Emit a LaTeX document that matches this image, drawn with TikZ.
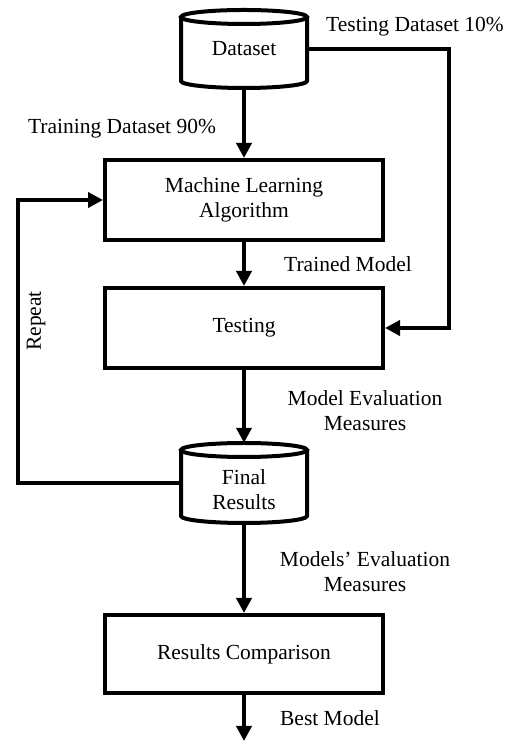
\documentclass[tikz,border=0pt]{standalone}
\usepackage{fontspec}
\setmainfont{Liberation Serif}
\usetikzlibrary{arrows.meta,calc}
\begin{document}
\begin{tikzpicture}[x=1pt,y=1pt,
  every node/.style={font=\fontsize{21.5}{25}\selectfont, inner sep=0pt},
  boxnode/.style={draw, line width=4pt, minimum width=278pt, minimum height=80pt, align=center},
  cylnode/.style={minimum width=126pt, minimum height=78pt, align=center},
  lbl/.style={align=center},
  arr/.style={line width=4pt, -{Triangle[length=15pt,width=15pt]}},
  ln/.style={line width=4pt}]
\useasboundingbox (0,0) rectangle (525,741);
% nodes
\node[cylnode] (dataset) at (244,692) {Dataset};
\node[boxnode] (ml) at (244,541) {Machine Learning\\Algorithm};
\node[boxnode] (testing) at (244,413) {Testing};
\node[cylnode, minimum height=80pt] (finalres) at (244,258) {};
\node[lbl] (finaltext) at (244,251) {Final\\Results};
\node[boxnode, minimum height=78pt] (compare) at (244,87) {Results Comparison};
\coordinate (bestend) at (244,0);
\coordinate (tcorner) at (449,692);
\coordinate (rpt) at (18,258);
% cylinders
\draw[ln] (244,724) ellipse [x radius=63pt, y radius=7pt];
\draw[ln] (181,724) -- (181,660) arc[start angle=180, end angle=360, x radius=63pt, y radius=7pt] -- (307,724);
\draw[ln] (244,291) ellipse [x radius=63pt, y radius=7pt];
\draw[ln] (181,291) -- (181,225) arc[start angle=180, end angle=360, x radius=63pt, y radius=7pt] -- (307,291);
% connectors
\draw[arr] (dataset.south) -- (ml.north);
\draw[arr] (dataset.east) -- (tcorner) -- (tcorner |- testing.east) -- (testing.east);
\draw[arr] (ml.south) -- (testing.north);
\draw[arr] (testing.south) -- (finalres.north);
\draw[arr] (finalres.west) -- (rpt) -- (rpt |- ml.west) -- (ml.west);
\draw[arr] (finalres.south) -- (compare.north);
\draw[arr] (compare.south) -- (bestend);
% labels
\node[lbl] (l1) at (415,714) {Testing Dataset 10\%};
\node[lbl] (l2) at (122,612) {Training Dataset 90\%};
\node[lbl] (l3) at (348,477) {Trained Model};
\node[lbl] (l4) at (365,330) {Model Evaluation\\Measures};
\node[lbl] (l5) at (365,169) {Models’ Evaluation\\Measures};
\node[lbl] (l6) at (330,23) {Best Model};
\node[lbl, rotate=90] (l7) at (36,420) {Repeat};
\end{tikzpicture}
\end{document}
